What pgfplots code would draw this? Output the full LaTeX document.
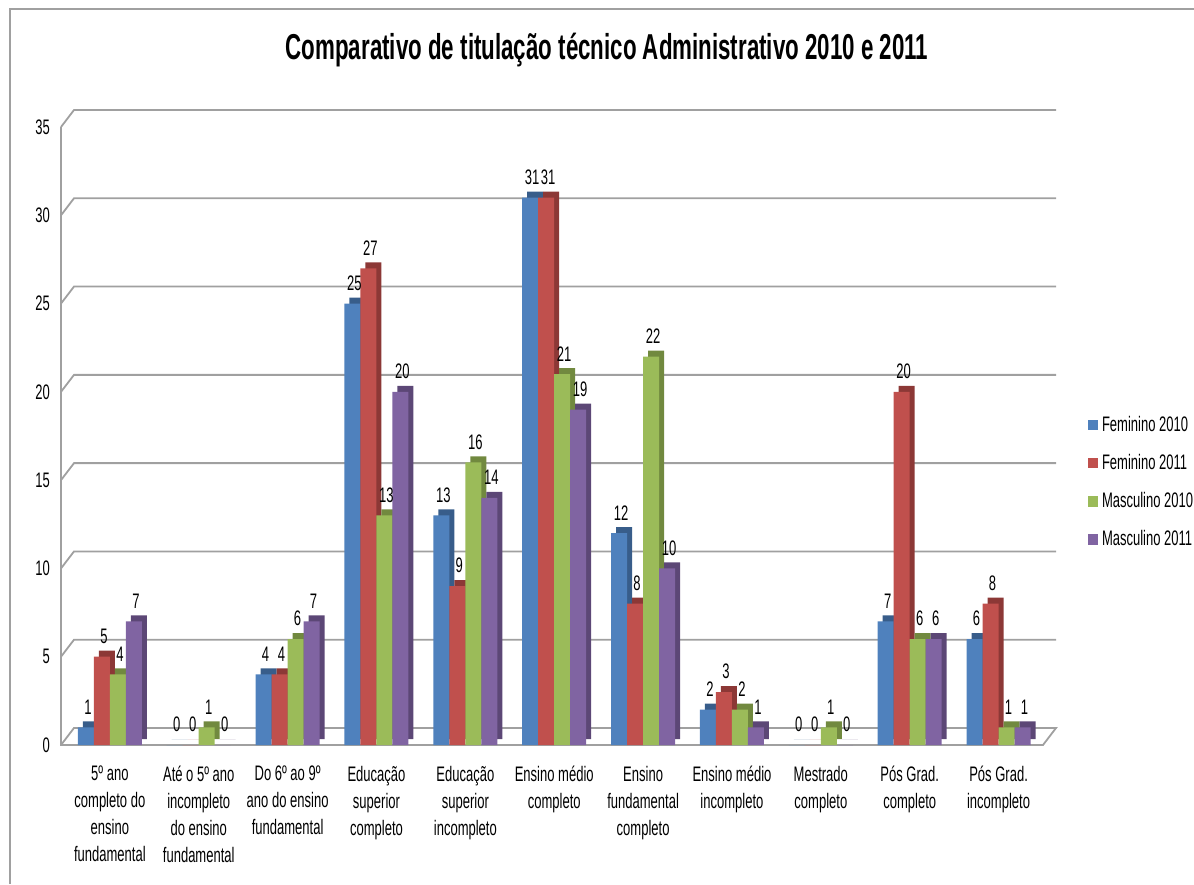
\documentclass[border=0pt]{standalone}
\usepackage{pgfplots}
\usepackage{pgfplotstable}
\pgfplotsset{compat=1.18}
\usepackage{fontspec}
\setmainfont{Liberation Sans}[FakeStretch=0.62]
\definecolor{cb}{HTML}{4F81BD}\definecolor{cbd}{HTML}{385D8A}
\definecolor{cr}{HTML}{C0504D}\definecolor{crd}{HTML}{8C3836}
\definecolor{cg}{HTML}{9BBB59}\definecolor{cgd}{HTML}{71893F}
\definecolor{cp}{HTML}{8064A2}\definecolor{cpd}{HTML}{5C4776}
\definecolor{gridc}{HTML}{A0A0A0}
\pgfplotstableread{
x f10 f11 m10 m11
0 1 5 4 7
1 0 0 1 0
2 4 4 6 7
3 25 27 13 20
4 13 9 16 14
5 31 31 21 19
6 12 8 22 10
7 2 3 2 1
8 0 0 1 0
9 7 20 6 6
10 6 8 1 1
}\datatable
\begin{document}
\begin{tikzpicture}
\path[use as bounding box] (0,0) rectangle (597pt,442pt);
\draw[gridc, line width=0.8pt] (5pt,0) -- (5pt,437.5pt) -- (597pt,437.5pt);
\node[font=\fontsize{18}{20}\selectfont\bfseries] at (303.5pt,417pt) {Comparativo de titulação técnico Administrativo 2010 e 2011};
\begin{axis}[
  at={(30.5pt,69.5pt)}, anchor=south west,
  scale only axis, width=491pt, height=309pt,
  xmin=-0.55, xmax=10.5, ymin=0, ymax=35,
  clip=false,
  axis line style={draw=none},
  major tick length=0pt,
  ytick={0,5,...,35},
  xtick={0,...,10},
  xticklabels={{5º ano\\completo do\\ensino\\fundamental},
    {Até o 5º ano\\incompleto\\do ensino\\fundamental},
    {Do 6º ao 9º\\ano do ensino\\fundamental},
    {Educação\\superior\\completo},
    {Educação\\superior\\incompleto},
    {Ensino médio\\completo},
    {Ensino\\fundamental\\completo},
    {Ensino médio\\incompleto},
    {Mestrado\\completo},
    {Pós Grad.\\completo},
    {Pós Grad.\\incompleto}},
  xticklabel style={align=center, anchor=north, yshift=-7pt, font=\fontsize{10.5}{13.5}\selectfont},
  yticklabel style={font=\fontsize{10.5}{12}\selectfont, xshift=-2pt},
  /pgf/number format/assume math mode=true,
  legend style={at={(1.045,0.425)}, anchor=west, draw=none, fill=none,
    font=\fontsize{10.5}{12}\selectfont, row sep=6pt, inner sep=0pt},
  legend cell align=left,
  legend image code/.code={\fill[#1] (0pt,-2.6pt) rectangle (5.2pt,2.6pt);},
  nodes near coords style={font=\fontsize{10.5}{12}\selectfont, anchor=south, yshift=3pt},
]
% back wall gridlines and floor
\pgfplotsinvokeforeach{5,10,...,35}{
  \draw[gridc, line width=0.9pt] (axis cs:-0.55,#1) -- ([shift={(6.5pt,8.5pt)}]axis cs:-0.55,#1) -- ([shift={(6.5pt,8.5pt)}]axis cs:10.5,#1);
}
\draw[gridc, line width=0.9pt] (axis cs:-0.55,35) -- (axis cs:-0.55,0) -- (axis cs:10.5,0) -- ([shift={(6.5pt,8.5pt)}]axis cs:10.5,0) -- ([shift={(6.5pt,8.5pt)}]axis cs:-0.55,0) -- (axis cs:-0.55,0);
% shadows (3D depth)
\addplot[ybar, bar width=8pt, bar shift=-12pt, fill=cbd, draw=none, xshift=2.5pt, yshift=3pt, forget plot] table[x=x,y=f10]{\datatable};
\addplot[ybar, bar width=8pt, bar shift=-12pt, fill=cb, draw=none, nodes near coords, nodes near coords style={xshift=-11pt}] table[x=x,y=f10]{\datatable};
\addlegendentry{Feminino 2010}
\addplot[ybar, bar width=8pt, bar shift=-4pt, fill=crd, draw=none, xshift=2.5pt, yshift=3pt, forget plot] table[x=x,y=f11]{\datatable};
\addplot[ybar, bar width=8pt, bar shift=-4pt, fill=cr, draw=none, nodes near coords, nodes near coords style={xshift=-3pt}] table[x=x,y=f11]{\datatable};
\addlegendentry{Feminino 2011}
\addplot[ybar, bar width=8pt, bar shift=4pt, fill=cgd, draw=none, xshift=2.5pt, yshift=3pt, forget plot] table[x=x,y=m10]{\datatable};
\addplot[ybar, bar width=8pt, bar shift=4pt, fill=cg, draw=none, nodes near coords, nodes near coords style={xshift=5pt}] table[x=x,y=m10]{\datatable};
\addlegendentry{Masculino 2010}
\addplot[ybar, bar width=8pt, bar shift=12pt, fill=cpd, draw=none, xshift=2.5pt, yshift=3pt, forget plot] table[x=x,y=m11]{\datatable};
\addplot[ybar, bar width=8pt, bar shift=12pt, fill=cp, draw=none, nodes near coords, nodes near coords style={xshift=13pt}] table[x=x,y=m11]{\datatable};
\addlegendentry{Masculino 2011}
\end{axis}
\end{tikzpicture}
\end{document}
